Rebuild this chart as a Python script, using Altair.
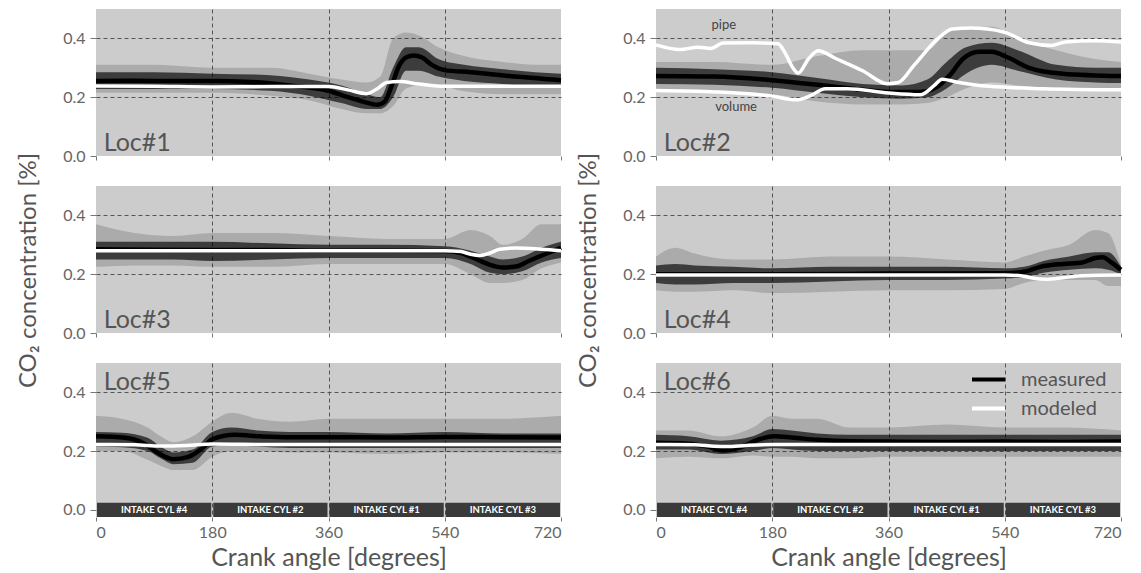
import altair as alt
import pandas as pd

FONT = "Lato"
TXT = "#555555"

X_TICKS = [0, 180, 360, 540, 720]
Y_TICKS = [0.0, 0.2, 0.4]
loc_names = ["Loc#1", "Loc#2", "Loc#3", "Loc#4", "Loc#5", "Loc#6"]
loc_label_x = [12, 12, 12, 12, 12, 12]
loc_label_y = [0.017, 0.017, 0.017, 0.017, 0.407, 0.407]

# ---------------- Loc#1 ----------------
l1_meas_x = [0, 60, 120, 180, 240, 300, 360, 390, 415, 435, 447, 458, 469, 480, 492, 505, 520, 540, 580, 640, 720]
l1_meas_y = [0.255, 0.256, 0.255, 0.255, 0.252, 0.240, 0.222, 0.200, 0.184, 0.174, 0.185, 0.240, 0.305, 0.335, 0.342, 0.335, 0.310, 0.292, 0.285, 0.272, 0.258]
l1_mod_x = [0, 90, 180, 270, 360, 390, 419, 435, 450, 470, 500, 540, 630, 720]
l1_mod_y = [0.238, 0.237, 0.235, 0.236, 0.236, 0.225, 0.212, 0.228, 0.250, 0.253, 0.245, 0.237, 0.237, 0.237]
l1_band_x = [0, 90, 180, 270, 330, 380, 420, 440, 460, 480, 500, 530, 570, 630, 680, 720]
l1_out_hi = [0.31, 0.31, 0.30, 0.30, 0.28, 0.26, 0.25, 0.27, 0.40, 0.42, 0.41, 0.37, 0.34, 0.32, 0.31, 0.31]
l1_out_lo = [0.215, 0.215, 0.215, 0.205, 0.19, 0.16, 0.145, 0.145, 0.17, 0.23, 0.24, 0.24, 0.22, 0.21, 0.21, 0.21]
l1_in_hi = [0.285, 0.285, 0.28, 0.275, 0.26, 0.24, 0.21, 0.20, 0.30, 0.37, 0.37, 0.33, 0.31, 0.295, 0.285, 0.28]
l1_in_lo = [0.228, 0.228, 0.228, 0.222, 0.205, 0.18, 0.16, 0.16, 0.20, 0.29, 0.29, 0.27, 0.255, 0.245, 0.235, 0.232]

# ---------------- Loc#2 ----------------
l2_meas_x = [0, 90, 180, 260, 320, 360, 410, 435, 455, 475, 500, 520, 545, 580, 630, 720]
l2_meas_y = [0.272, 0.270, 0.258, 0.240, 0.225, 0.218, 0.218, 0.235, 0.275, 0.330, 0.355, 0.355, 0.335, 0.298, 0.280, 0.272]
l2_pipe_x = [0, 37, 65, 85, 104, 150, 189, 200, 212, 220, 236, 251, 280, 320, 358, 375, 400, 437, 459, 488, 538, 578, 612, 634, 680, 720]
l2_pipe_y = [0.378, 0.362, 0.370, 0.366, 0.384, 0.385, 0.382, 0.350, 0.300, 0.282, 0.330, 0.358, 0.330, 0.290, 0.246, 0.250, 0.310, 0.400, 0.432, 0.435, 0.422, 0.385, 0.376, 0.388, 0.392, 0.388]
l2_vol_x = [0, 93, 179, 217, 240, 262, 296, 360, 409, 431, 443, 465, 516, 600, 720]
l2_vol_y = [0.223, 0.218, 0.204, 0.191, 0.206, 0.229, 0.229, 0.214, 0.208, 0.240, 0.261, 0.252, 0.237, 0.229, 0.225]
l2_band_x = [0, 90, 180, 250, 320, 380, 420, 450, 480, 520, 560, 620, 680, 720]
l2_out_hi = [0.32, 0.32, 0.31, 0.34, 0.36, 0.36, 0.36, 0.42, 0.44, 0.44, 0.40, 0.36, 0.33, 0.32]
l2_out_lo = [0.225, 0.22, 0.21, 0.185, 0.175, 0.175, 0.18, 0.20, 0.23, 0.25, 0.24, 0.23, 0.225, 0.225]
l2_in_hi = [0.30, 0.295, 0.285, 0.265, 0.245, 0.24, 0.26, 0.32, 0.37, 0.385, 0.36, 0.31, 0.30, 0.30]
l2_in_lo = [0.245, 0.242, 0.232, 0.215, 0.20, 0.195, 0.20, 0.23, 0.28, 0.31, 0.29, 0.26, 0.25, 0.248]
l2_note_text = ["pipe", "volume"]
l2_note_x = [105, 124]
l2_note_y = [0.445, 0.166]

# ---------------- Loc#3 ----------------
l3_meas_x = [0, 90, 180, 270, 360, 450, 540, 565, 590, 610, 630, 650, 670, 695, 720]
l3_meas_y = [0.285, 0.283, 0.282, 0.282, 0.280, 0.280, 0.279, 0.272, 0.250, 0.232, 0.223, 0.226, 0.245, 0.268, 0.290]
l3_mod_x = [0, 180, 360, 540, 565, 580, 595, 610, 625, 650, 690, 720]
l3_mod_y = [0.280, 0.280, 0.280, 0.280, 0.277, 0.268, 0.264, 0.272, 0.285, 0.289, 0.285, 0.280]
l3_band_x = [0, 60, 120, 180, 270, 360, 450, 540, 580, 610, 630, 660, 690, 720]
l3_out_hi = [0.37, 0.34, 0.33, 0.34, 0.34, 0.33, 0.32, 0.32, 0.35, 0.33, 0.30, 0.32, 0.37, 0.37]
l3_out_lo = [0.225, 0.23, 0.23, 0.225, 0.225, 0.235, 0.235, 0.235, 0.20, 0.17, 0.17, 0.18, 0.22, 0.24]
l3_in_hi = [0.31, 0.31, 0.31, 0.31, 0.305, 0.30, 0.30, 0.295, 0.28, 0.26, 0.25, 0.26, 0.29, 0.31]
l3_in_lo = [0.25, 0.25, 0.25, 0.245, 0.25, 0.255, 0.255, 0.255, 0.235, 0.205, 0.20, 0.21, 0.24, 0.255]

# ---------------- Loc#4 ----------------
l4_meas_x = [0, 180, 360, 540, 570, 595, 630, 660, 680, 692, 705, 720]
l4_meas_y = [0.200, 0.200, 0.202, 0.203, 0.208, 0.225, 0.235, 0.240, 0.255, 0.258, 0.240, 0.215]
l4_mod_x = [0, 180, 360, 540, 565, 585, 605, 630, 660, 720]
l4_mod_y = [0.197, 0.197, 0.197, 0.197, 0.195, 0.186, 0.183, 0.188, 0.195, 0.197]
l4_band_x = [0, 30, 60, 120, 180, 270, 360, 450, 540, 570, 600, 640, 680, 700, 720]
l4_out_hi = [0.26, 0.29, 0.27, 0.25, 0.25, 0.26, 0.26, 0.25, 0.24, 0.26, 0.28, 0.30, 0.35, 0.34, 0.23]
l4_out_lo = [0.145, 0.14, 0.14, 0.145, 0.135, 0.14, 0.145, 0.145, 0.15, 0.17, 0.18, 0.18, 0.18, 0.16, 0.16]
l4_in_hi = [0.23, 0.235, 0.23, 0.225, 0.22, 0.225, 0.225, 0.225, 0.22, 0.225, 0.245, 0.26, 0.275, 0.275, 0.225]
l4_in_lo = [0.17, 0.165, 0.165, 0.17, 0.17, 0.175, 0.18, 0.18, 0.185, 0.19, 0.205, 0.215, 0.22, 0.215, 0.20]

# ---------------- Loc#5 ----------------
l5_meas_x = [0, 45, 75, 97, 120, 143, 165, 180, 215, 255, 300, 360, 450, 540, 630, 720]
l5_meas_y = [0.250, 0.245, 0.225, 0.192, 0.172, 0.180, 0.210, 0.240, 0.255, 0.250, 0.247, 0.247, 0.246, 0.248, 0.247, 0.246]
l5_mod_x = [0, 60, 100, 140, 180, 270, 360, 540, 720]
l5_mod_y = [0.222, 0.221, 0.217, 0.219, 0.224, 0.222, 0.222, 0.222, 0.222]
l5_band_x = [0, 40, 80, 100, 120, 150, 180, 210, 250, 300, 360, 450, 540, 630, 720]
l5_out_hi = [0.32, 0.31, 0.28, 0.25, 0.23, 0.25, 0.30, 0.33, 0.31, 0.30, 0.31, 0.31, 0.31, 0.31, 0.32]
l5_out_lo = [0.20, 0.20, 0.17, 0.15, 0.135, 0.135, 0.18, 0.20, 0.20, 0.195, 0.195, 0.19, 0.195, 0.195, 0.19]
l5_in_hi = [0.265, 0.262, 0.245, 0.215, 0.195, 0.205, 0.265, 0.28, 0.27, 0.265, 0.265, 0.26, 0.265, 0.26, 0.26]
l5_in_lo = [0.215, 0.213, 0.20, 0.175, 0.155, 0.16, 0.215, 0.22, 0.215, 0.21, 0.21, 0.21, 0.21, 0.21, 0.21]

# ---------------- Loc#6 ----------------
l6_meas_x = [0, 50, 80, 104, 130, 160, 183, 210, 250, 300, 360, 450, 540, 630, 720]
l6_meas_y = [0.228, 0.225, 0.215, 0.202, 0.212, 0.240, 0.250, 0.246, 0.238, 0.233, 0.232, 0.231, 0.232, 0.231, 0.232]
l6_mod_x = [0, 60, 90, 110, 140, 180, 270, 360, 540, 720]
l6_mod_y = [0.222, 0.221, 0.216, 0.215, 0.219, 0.222, 0.222, 0.222, 0.222, 0.222]
l6_band_x = [0, 50, 100, 150, 180, 210, 250, 300, 360, 450, 540, 630, 720]
l6_out_hi = [0.27, 0.27, 0.25, 0.28, 0.32, 0.31, 0.31, 0.28, 0.28, 0.29, 0.28, 0.28, 0.27]
l6_out_lo = [0.175, 0.18, 0.175, 0.185, 0.18, 0.18, 0.175, 0.175, 0.18, 0.18, 0.18, 0.18, 0.18]
l6_in_hi = [0.255, 0.25, 0.235, 0.25, 0.275, 0.27, 0.26, 0.255, 0.255, 0.255, 0.255, 0.255, 0.255]
l6_in_lo = [0.205, 0.205, 0.19, 0.20, 0.21, 0.205, 0.20, 0.20, 0.20, 0.20, 0.20, 0.20, 0.20]

# intake bars (bottom panels)
intake_names = ["INTAKE CYL #4", "INTAKE CYL #2", "INTAKE CYL #1", "INTAKE CYL #3"]
intake_start = [0, 180, 360, 540]
intake_end = [180, 360, 540, 720]
intake_lo = -0.025
intake_hi = 0.024

series_domain = ["measured", "modeled"]
series_colors = ["#000000", "#ffffff"]

# ------------------------------------------------------------------
def x_axis(row):
    bottom = row == 2
    return alt.Axis(
        values=X_TICKS, labels=bottom, title="Crank angle [degrees]" if bottom else None,
        grid=True, gridDash=[4, 3], gridColor="#555555", gridWidth=1,
        gridOpacity={"condition": {"test": "datum.value == 0 || datum.value == 720", "value": 0}, "value": 1},
        domain=False, ticks=True, tickSize=4, tickColor="#777777",
        labelFont=FONT, labelFontSize=16, labelColor="#666666", labelPadding=3,
        titleFont=FONT, titleFontSize=25, titleColor=TXT, titleFontWeight="normal", titlePadding=5,
    )


def y_axis(row):
    return alt.Axis(
        values=Y_TICKS, format=".1f", title="CO₂ concentration [%]" if row == 1 else None,
        grid=True, gridDash=[4, 3], gridColor="#555555", gridWidth=1,
        gridOpacity={"condition": {"test": "datum.value == 0", "value": 0}, "value": 1},
        domain=False, ticks=True, tickSize=6, tickColor="#777777",
        labelFont=FONT, labelFontSize=16, labelColor="#666666", labelPadding=5,
        titleFont=FONT, titleFontSize=24, titleColor=TXT, titleFontWeight="normal", titlePadding=22,
        titleY=84,
    )


color_scale = alt.Scale(domain=series_domain, range=series_colors)
legend = alt.Legend(
    orient="none", legendX=874, legendY=352, title=None, symbolType="stroke",
    symbolStrokeWidth=4, symbolSize=1089, labelFont=FONT, labelFontSize=20,
    labelColor=TXT, labelOffset=14, rowPadding=0,
)


def panel(idx, meas_x, meas_y, model_lines, band_x, out_lo, out_hi, in_lo, in_hi):
    row, col = idx // 2, idx % 2
    ydom = [0, 0.5] if row < 2 else [intake_lo, 0.5]
    h = 147 if row < 2 else 154
    xs = alt.Scale(domain=[0, 720], nice=False, zero=False)
    ys = alt.Scale(domain=ydom, nice=False, zero=False)
    X = lambda f: alt.X(f"{f}:Q", scale=xs, axis=x_axis(row))
    Y = lambda f: alt.Y(f"{f}:Q", scale=ys, axis=y_axis(row))

    band = pd.DataFrame({"x": band_x, "olo": out_lo, "ohi": out_hi, "ilo": in_lo, "ihi": in_hi})
    outer = alt.Chart(band).mark_area(color="black", opacity=0.16, interpolate="monotone").encode(
        x=X("x"), y=Y("olo"), y2="ohi")
    inner = alt.Chart(band).mark_area(color="black", opacity=0.65, interpolate="monotone").encode(
        x=X("x"), y=Y("ilo"), y2="ihi")

    meas = pd.DataFrame({"x": meas_x, "y": meas_y, "series": "measured", "line": "m"})
    mod_frames = []
    for name, (mx, my) in model_lines.items():
        mod_frames.append(pd.DataFrame({"x": mx, "y": my, "series": "modeled", "line": name}))
    mod = pd.concat(mod_frames)

    col_enc = alt.Color("series:N", scale=color_scale, legend=legend)
    m_line = alt.Chart(meas).mark_line(strokeWidth=4.5, interpolate="monotone").encode(
        x=X("x"), y=Y("y"), color=col_enc, detail="line:N")
    o_line = alt.Chart(mod).mark_line(strokeWidth=3.5, interpolate="monotone").encode(
        x=X("x"), y=Y("y"), color=col_enc, detail="line:N")

    lab = pd.DataFrame({"x": [loc_label_x[idx]], "y": [loc_label_y[idx]], "t": [loc_names[idx]]})
    lab_mark = alt.Chart(lab).mark_text(align="left", baseline="alphabetic", font=FONT,
                                        fontSize=25, color=TXT).encode(x=X("x"), y=Y("y"), text="t:N")

    layers = [outer, inner, m_line, o_line, lab_mark]

    if idx == 1:
        notes = pd.DataFrame({"x": l2_note_x, "y": l2_note_y, "t": l2_note_text})
        layers.append(alt.Chart(notes).mark_text(font=FONT, fontSize=13, color="#444444",
                                                 baseline="middle").encode(x=X("x"), y=Y("y"), text="t:N"))
    if row == 2:
        bars = pd.DataFrame({"s": intake_start, "e": intake_end, "lo": intake_lo, "hi": intake_hi,
                             "t": intake_names,
                             "m": [(a + b) / 2 for a, b in zip(intake_start, intake_end)],
                             "c": (intake_lo + intake_hi) / 2})
        layers.append(alt.Chart(bars).mark_rect(color="#3a3a3a", xOffset=1, x2Offset=-1).encode(
            x=X("s"), x2="e", y=Y("lo"), y2="hi"))
        layers.append(alt.Chart(bars).mark_text(color="white", font=FONT, fontSize=9.5, fontWeight="bold",
                                                baseline="middle").encode(x=X("m"), y=Y("c"), text="t:N"))

    return alt.layer(*layers).properties(
        width=465, height=h, view=alt.ViewBackground(fill="#cccccc", stroke=None))


panels = [
    panel(0, l1_meas_x, l1_meas_y, {"mod": (l1_mod_x, l1_mod_y)}, l1_band_x, l1_out_lo, l1_out_hi, l1_in_lo, l1_in_hi),
    panel(1, l2_meas_x, l2_meas_y, {"pipe": (l2_pipe_x, l2_pipe_y), "volume": (l2_vol_x, l2_vol_y)},
          l2_band_x, l2_out_lo, l2_out_hi, l2_in_lo, l2_in_hi),
    panel(2, l3_meas_x, l3_meas_y, {"mod": (l3_mod_x, l3_mod_y)}, l3_band_x, l3_out_lo, l3_out_hi, l3_in_lo, l3_in_hi),
    panel(3, l4_meas_x, l4_meas_y, {"mod": (l4_mod_x, l4_mod_y)}, l4_band_x, l4_out_lo, l4_out_hi, l4_in_lo, l4_in_hi),
    panel(4, l5_meas_x, l5_meas_y, {"mod": (l5_mod_x, l5_mod_y)}, l5_band_x, l5_out_lo, l5_out_hi, l5_in_lo, l5_in_hi),
    panel(5, l6_meas_x, l6_meas_y, {"mod": (l6_mod_x, l6_mod_y)}, l6_band_x, l6_out_lo, l6_out_hi, l6_in_lo, l6_in_hi),
]

chart = alt.concat(*panels, columns=2, spacing={"row": 30, "column": 95}, bounds="flush").properties(
    padding={"left": 16, "top": 9, "right": 5, "bottom": 2},
    background="white",
).configure_view(fill="#cccccc", stroke=None).configure(font=FONT)

chart.save("out.html", embed_options={"renderer": "svg", "actions": False})
